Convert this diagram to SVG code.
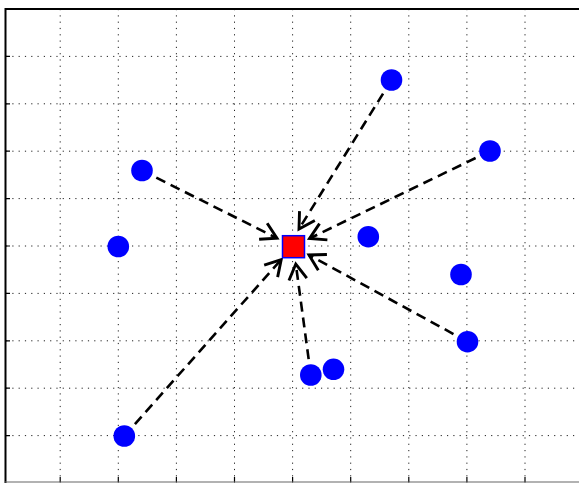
<svg xmlns="http://www.w3.org/2000/svg" width="579" height="483" viewBox="0 0 579 483">
<style>
.grid{stroke:#222;stroke-width:1;stroke-dasharray:1.2,5.1;fill:none}
.pt{fill:#0000ff;stroke:none}
.conn{stroke:#000;stroke-width:2.6;stroke-dasharray:10,6;fill:none}
.tick{stroke:#000;stroke-width:1.2}
</style>
<defs>
<marker id="head" markerUnits="userSpaceOnUse" viewBox="-20 -12 22 24" refX="0" refY="0" markerWidth="22" markerHeight="24" orient="auto" overflow="visible">
<path d="M-15.5,-9 L0,0 L-15.5,9" fill="none" stroke="#000" stroke-width="2.9" stroke-linejoin="miter"/>
</marker>
</defs>
<rect x="0" y="0" width="579" height="483" fill="#fff"/>
<g id="grid">
<path class="grid" d="M60.2,9V483M118.3,9V483M176.4,9V483M234.5,9V483M292.6,9V483M350.7,9V483M408.8,9V483M466.9,9V483M525,9V483"/>
<path class="grid" d="M6,56.4H579M6,103.8H579M6,151.2H579M6,198.6H579M6,246H579M6,293.4H579M6,340.8H579M6,388.2H579M6,435.6H579"/>
<path class="tick" d="M60.2,482V477M118.3,482V477M176.4,482V477M234.5,482V477M292.6,482V477M350.7,482V477M408.8,482V477M466.9,482V477M525,482V477"/>
<path class="tick" d="M6,56.4H10M6,103.8H10M6,151.2H10M6,198.6H10M6,246H10M6,293.4H10M6,340.8H10M6,388.2H10M6,435.6H10"/>
</g>
<g id="axes">
<line x1="5" y1="9" x2="579" y2="9" stroke="#000" stroke-width="2"/>
<line x1="5.5" y1="8" x2="5.5" y2="483" stroke="#000" stroke-width="2"/>
<line x1="5" y1="482" x2="579" y2="482" stroke="#666" stroke-width="1.2"/>
</g>
<g id="connectors">
<line class="conn" x1="391.5" y1="80" x2="299" y2="229" marker-end="url(#head)"/>
<line class="conn" x1="490" y1="151" x2="309.5" y2="238.5" marker-end="url(#head)"/>
<line class="conn" x1="142" y1="170.5" x2="277" y2="238.2" marker-end="url(#head)"/>
<line class="conn" x1="467.5" y1="341.7" x2="309" y2="255" marker-end="url(#head)"/>
<line class="conn" x1="310.8" y1="375" x2="295.8" y2="264" marker-end="url(#head)"/>
<line class="conn" x1="124.3" y1="436" x2="281.2" y2="259.6" marker-end="url(#head)"/>
</g>
<g id="p1"><circle class="pt" cx="391.5" cy="80" r="10.8"/></g>
<g id="p2"><circle class="pt" cx="490" cy="151" r="10.8"/></g>
<g id="p3"><circle class="pt" cx="142" cy="170.5" r="10.8"/></g>
<g id="p4"><circle class="pt" cx="118.3" cy="246.5" r="10.8"/></g>
<g id="p5"><circle class="pt" cx="368.3" cy="236.7" r="10.8"/></g>
<g id="p6"><circle class="pt" cx="461" cy="274.5" r="10.8"/></g>
<g id="p7"><circle class="pt" cx="467.5" cy="341.7" r="10.8"/></g>
<g id="p8"><circle class="pt" cx="310.8" cy="375" r="10.8"/></g>
<g id="p9"><circle class="pt" cx="333.5" cy="369.3" r="10.8"/></g>
<g id="p10"><circle class="pt" cx="124.3" cy="436" r="10.8"/></g>
<g id="target"><rect x="282.5" y="235.7" width="22" height="22" fill="#ff0000" stroke="#0000ff" stroke-width="1.5"/></g>
</svg>
